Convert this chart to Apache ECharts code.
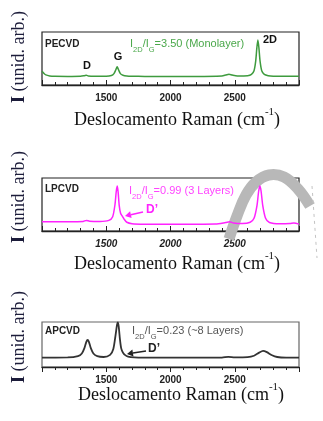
<!DOCTYPE html>
<html>
<head>
<meta charset="utf-8">
<script src="https://cdn.jsdelivr.net/npm/echarts@6/dist/echarts.min.js"></script>
<style>
html,body{margin:0;padding:0;background:#fff;}
#chart{width:323px;height:421px;}
</style>
</head>
<body>
<div id="chart"></div>
<script>
// Raman shift (cm-1) vs normalised intensity
var pecvdData = [
  [1000,0.26],[1015,0.22],[1030,0.19],[1060,0.172],[1100,0.165],[1200,0.162],[1300,0.165],
  [1330,0.175],[1345,0.182],[1360,0.172],[1400,0.165],[1500,0.165],[1540,0.178],[1560,0.215],
  [1575,0.29],[1585,0.345],[1595,0.29],[1610,0.215],[1630,0.185],[1660,0.17],[1700,0.165],
  [1800,0.162],[2000,0.162],[2200,0.162],[2400,0.17],[2430,0.188],[2455,0.205],[2480,0.188],
  [2520,0.17],[2600,0.175],[2630,0.2],[2650,0.27],[2663,0.45],[2672,0.7],[2680,0.85],
  [2688,0.7],[2697,0.45],[2710,0.27],[2730,0.2],[2760,0.175],[2800,0.167],[3000,0.165]
];
var lpcvdData = [
  [1000,0.175],[1200,0.175],[1320,0.18],[1345,0.2],[1370,0.185],[1450,0.18],[1520,0.2],
  [1550,0.27],[1568,0.5],[1578,0.75],[1586,0.85],[1593,0.72],[1601,0.48],[1612,0.33],
  [1625,0.28],[1640,0.22],[1660,0.165],[1700,0.138],[1800,0.128],[2000,0.126],[2350,0.13],
  [2430,0.16],[2460,0.175],[2490,0.15],[2560,0.14],[2620,0.165],[2650,0.24],[2673,0.48],
  [2686,0.75],[2696,0.85],[2705,0.75],[2718,0.48],[2740,0.24],[2770,0.16],[2850,0.135],
  [2930,0.14],[2960,0.15],[3000,0.13]
];
var apcvdData = [
  [1000,0.21],[1200,0.212],[1280,0.24],[1310,0.3],[1330,0.42],[1345,0.56],[1355,0.6],
  [1365,0.56],[1380,0.42],[1400,0.3],[1430,0.24],[1480,0.222],[1530,0.27],[1555,0.4],
  [1573,0.72],[1584,0.94],[1590,0.99],[1597,0.9],[1606,0.63],[1616,0.42],[1630,0.32],
  [1645,0.27],[1670,0.232],[1720,0.215],[1800,0.21],[2000,0.207],[2400,0.21],[2450,0.225],
  [2500,0.215],[2600,0.22],[2650,0.25],[2690,0.32],[2720,0.36],[2750,0.33],[2790,0.26],
  [2830,0.222],[2900,0.21],[3000,0.21]
];
var xMin = 1000, xMax = 3000, xInterval = 500;
var panelNames = ['PECVD','LPCVD','APCVD'];
var ratioLabels = ['=3.50 (Monolayer)','=0.99 (3 Layers)','=0.23 (~8 Layers)'];
var xTitle = 'Deslocamento Raman (cm';
var yTitle = ' (unid. arb.)';

var lineColors = ['#3e9b3e','#ff22ff','#333333'];
var textColors = ['#4aa84a','#ff44ff','#555555'];
var grids = [
  {left:42, top:32, width:257, height:53},
  {left:42, top:178, width:257, height:53},
  {left:42, top:322, width:257, height:45}
];
var labelItalic = ['normal','italic','normal'];
var tickInside = [true,true,false];

var chart = echarts.init(document.getElementById('chart'));

var xAxes = [], yAxes = [], series = [];
var datas = [pecvdData, lpcvdData, apcvdData];
for (var i=0;i<3;i++){
  xAxes.push({
    type:'value', gridIndex:i, min:xMin, max:xMax, interval:xInterval,
    axisLine:{show:true, onZero:false, lineStyle:{color:'#222', width:1.3}},
    axisTick:{show:true, inside:tickInside[i], length:5, lineStyle:{color:'#222', width:1}},
    minorTick:{show:true, splitNumber:5, length:3, lineStyle:{color:'#222', width:1}},
    splitLine:{show:false},
    axisLabel:{show:true, showMinLabel:false, showMaxLabel:false, margin:8,
      formatter:function(v){ return String(v); },
      fontFamily:'Liberation Sans, Arial, sans-serif', fontWeight:'bold', fontSize:10,
      fontStyle:labelItalic[i], color:'#222'}
  });
  yAxes.push({
    type:'value', gridIndex:i, min:0, max:1,
    axisLine:{show:false}, axisTick:{show:false}, axisLabel:{show:false}, splitLine:{show:false}
  });
  series.push({
    type:'line', xAxisIndex:i, yAxisIndex:i, data:datas[i], showSymbol:false, smooth:0.25,
    lineStyle:{color:lineColors[i], width: i===2?1.8:1.5}, z:5
  });
}

function subTitle(x,y,i){
  return {type:'text', x:x, y:y, z:20, style:{
    text:'{m|I}{s|2D}{m|/I}{s|G}{m|'+ratioLabels[i]+'}',
    align:'left', verticalAlign:'middle',
    rich:{
      m:{fontFamily:'Liberation Sans, Arial, sans-serif', fontSize:11, fill:textColors[i], lineHeight:16, verticalAlign:'top'},
      s:{fontFamily:'Liberation Sans, Arial, sans-serif', fontSize:7.5, fill:textColors[i], lineHeight:9, verticalAlign:'bottom'}
    }
  }};
}
function xLabel(cx,cy){
  return {type:'text', x:cx, y:cy, z:20, style:{
    text:'{m|'+xTitle+'}{s|-1}{m|)}', align:'center', verticalAlign:'middle',
    rich:{
      m:{fontFamily:'Liberation Serif, Times New Roman, serif', fontSize:18, fill:'#111', lineHeight:22, verticalAlign:'bottom'},
      s:{fontFamily:'Liberation Serif, Times New Roman, serif', fontSize:11, fill:'#111', lineHeight:12, verticalAlign:'top'}
    }
  }};
}
function yLabel(cx,cy){
  return {type:'text', x:cx, y:cy, rotation:Math.PI/2, z:20, style:{
    text:'{b|I}{m|'+yTitle+'}', align:'center', verticalAlign:'middle',
    rich:{
      b:{fontFamily:'Liberation Serif, Times New Roman, serif', fontSize:18, fontWeight:'bold', fill:'#1c1c3a'},
      m:{fontFamily:'Liberation Serif, Times New Roman, serif', fontSize:18, fill:'#1c1c3a'}
    }
  }};
}
function plain(text,x,y,color,size,align){
  return {type:'text', x:x, y:y, z:20, style:{text:text, fill:color, align:align||'left', verticalAlign:'middle',
    font:'bold '+(size||10)+'px Liberation Sans, Arial, sans-serif'}};
}
function arrow(x1,y1,x2,y2,color){
  var ang = Math.atan2(y2-y1, x2-x1), L=6, W=3.5;
  var bx = x2 - L*Math.cos(ang), by = y2 - L*Math.sin(ang);
  var px = -Math.sin(ang), py = Math.cos(ang);
  return [
    {type:'line', z:20, shape:{x1:x1,y1:y1,x2:bx,y2:by}, style:{stroke:color, lineWidth:1.6}},
    {type:'polygon', z:20, shape:{points:[[x2,y2],[bx+px*W,by+py*W],[bx-px*W,by-py*W]]}, style:{fill:color}}
  ];
}

var graphics = [
  // watermark swoosh in middle panel
  {type:'polyline', z:1, shape:{points:[[229,239],[237,216],[246,195],[256,182],[269,175],[284,177],[298,189],[310,206]], smooth:0.4},
    style:{stroke:'#b8b8b8', lineWidth:11, fill:null}},
  {type:'line', z:1, shape:{x1:312,y1:186,x2:317,y2:258}, style:{stroke:'#c4c4c4', lineWidth:1, lineDash:[3,4]}},
  plain(panelNames[0],45,44,'#222',10),
  plain(panelNames[1],45,189,'#222',10),
  plain(panelNames[2],45,331,'#222',10),
  subTitle(130,46,0),
  subTitle(129,193,1),
  subTitle(132,333,2),
  plain('D',87,66,'#111',11,'center'),
  plain('G',118,57,'#111',11,'center'),
  plain('2D',270,40,'#111',11,'center'),
  plain('D\u2019',146,210,'#ff22ff',12,'left'),
  plain('D\u2019',148,349,'#222',12,'left'),
  xLabel(177,118), xLabel(177,262), xLabel(181,393),
  yLabel(19,57), yLabel(19,197), yLabel(19,337)
].concat(arrow(143,212,125,216,'#ff22ff')).concat(arrow(146,351,127,354,'#222'));

chart.setOption({
  animation:false,
  backgroundColor:'#fff',
  grid: grids.map(function(g,i){ return Object.assign({show:true, borderColor: i===2?'#666':'#222', borderWidth:1.2, backgroundColor:'transparent'}, g); }),
  xAxis: xAxes,
  yAxis: yAxes,
  series: series,
  graphic: graphics
});
</script>
</body>
</html>
